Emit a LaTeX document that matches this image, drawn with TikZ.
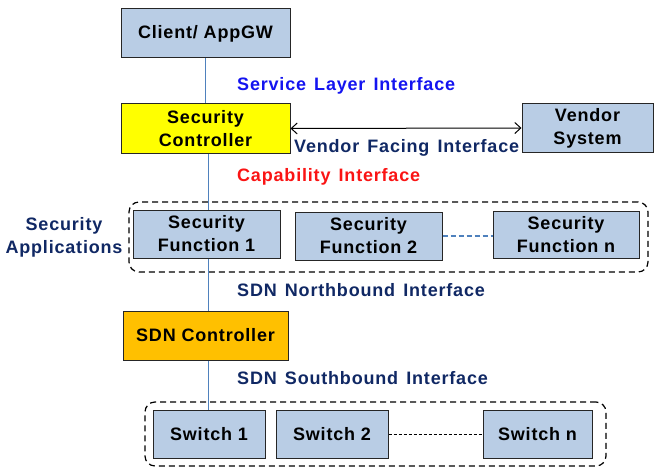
\documentclass[tikz,border=0pt]{standalone}
\usepackage{fontspec}
\setmainfont{Liberation Sans}[LetterSpace=4.5]
\newfontfamily\labelfont{Liberation Sans}[LetterSpace=4.5,WordSpace=1.4]
\usetikzlibrary{arrows.meta}
\definecolor{boxblue}{RGB}{185,205,229}
\definecolor{ctrlyellow}{RGB}{255,255,0}
\definecolor{sdnorange}{RGB}{255,192,0}
\definecolor{linkblue}{RGB}{79,129,189}
\definecolor{navy}{RGB}{16,40,100}
\definecolor{ifblue}{RGB}{20,20,240}
\definecolor{ifred}{RGB}{250,20,20}

\begin{document}
\begin{tikzpicture}[x=1pt,y=-1pt,
  txt/.style={font=\bfseries\fontsize{18}{23}\selectfont},
  box/.style={txt,draw=black!85,line width=1pt,fill=boxblue,inner sep=0pt,align=center},
  group/.style={draw=black,line width=1.2pt,rounded corners=10pt,dash pattern=on 6pt off 4pt,inner sep=0pt},
  iface/.style={font=\labelfont\bfseries\fontsize{18}{23}\selectfont,anchor=west,inner sep=0pt},
  spine/.style={draw=linkblue,line width=1.8pt}
]
\useasboundingbox (0,0) rectangle (655,468);

% dashed grouping frames
\node[group,minimum width=519,minimum height=70] (apps) at (388.5,237) {};
\node[group,minimum width=461,minimum height=64] (switches) at (375.5,434) {};

% main boxes
\node[box,minimum width=169,minimum height=49] (client) at (205.5,33.5) {Client/ AppGW};
\node[box,fill=ctrlyellow,minimum width=169,minimum height=49] (ctrl) at (205.5,128.5) {Security\\Controller};
\node[box,minimum width=131,minimum height=48] (vendor) at (587.5,128) {Vendor\\System};

\node[box,minimum width=147,minimum height=48] (sf1) at (206.5,234) {Security\\Function 1};
\node[box,minimum width=147,minimum height=48] (sf2) at (368.5,236) {Security\\Function 2};
\node[box,minimum width=146,minimum height=47] (sfn) at (566,235) {Security\\Function n};

\node[box,fill=sdnorange,minimum width=165,minimum height=49] (sdn) at (205.5,335.5) {SDN Controller};

\node[box,minimum width=112,minimum height=48] (sw1) at (209,434) {Switch 1};
\node[box,minimum width=112,minimum height=48] (sw2) at (332,434) {Switch 2};
\node[box,minimum width=109,minimum height=48] (swn) at (537.5,434) {Switch n};

% interface labels
\node[iface,text=ifblue] (sli) at (237,86) {Service Layer Interface};
\node[iface,text=navy] (vfi) at (294,148) {Vendor Facing Interface};
\node[iface,text=ifred] (cap) at (237,177) {Capability Interface};
\node[iface,text=navy] (nbi) at (237,290) {SDN Northbound Interface};
\node[iface,text=navy] (sbi) at (237,378) {SDN Southbound Interface};
\node[txt,text=navy,align=center,inner sep=0pt] (secapps) at (64,237) {Security\\Applications};

% vertical links
\coordinate (axis) at (208.5,0);
\draw[spine] (client.south) -- (ctrl.north);
\draw[spine] (ctrl.south -| axis) -- (sf1.north -| axis);
\draw[spine] (sf1.south -| axis) -- (sdn.north -| axis);
\draw[spine] (sdn.south -| axis) -- (sw1.north -| axis);

% vendor facing interface
\draw[line width=1pt,{Straight Barb[length=6pt,width=11pt]}-{Straight Barb[length=6pt,width=11pt]}] (ctrl.east) -- (vendor.west);

% elided members
\draw[draw=linkblue,line width=1.5pt,dash pattern=on 5pt off 3pt] (sf2.east) -- (sf2.east -| sfn.west);
\draw[line width=0.8pt,dash pattern=on 3pt off 2pt] (sw2.east) -- (swn.west);
\end{tikzpicture}
\end{document}
